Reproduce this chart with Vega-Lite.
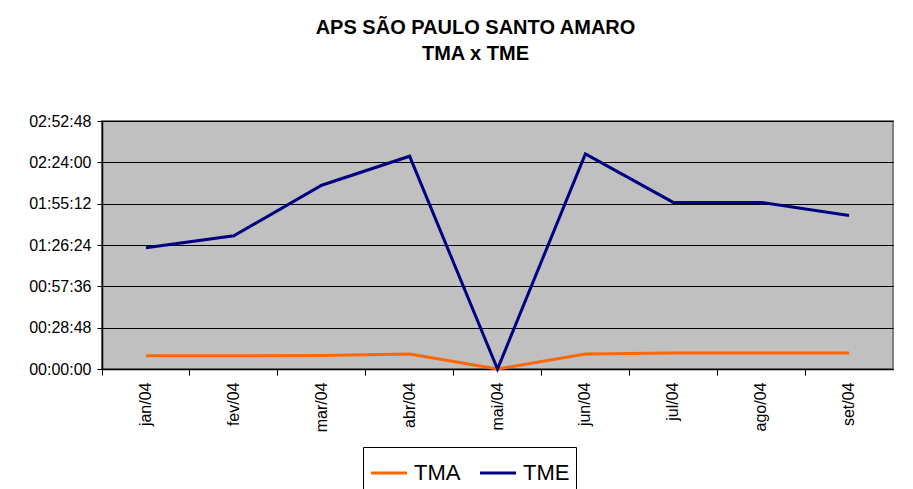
{
  "$schema": "https://vega.github.io/schema/vega-lite/v6.json",
  "autosize": "none",
  "width": 791,
  "height": 248,
  "padding": {"left": 102, "top": 121, "right": 20, "bottom": 120},
  "background": "white",
  "config": {
    "font": "Liberation Sans",
    "view": {"fill": "#C0C0C0", "stroke": "#808080", "strokeWidth": 2}
  },
  "title": {
    "text": ["APS SÃO PAULO SANTO AMARO", "TMA x TME"],
    "fontSize": 20,
    "fontWeight": "bold",
    "color": "black",
    "lineHeight": 26,
    "anchor": "middle",
    "dx": -22,
    "offset": 49
  },
  "data": {
    "values": [
      {"mes": "jan/04", "serie": "TMA", "valor": 555000},
      {"mes": "fev/04", "serie": "TMA", "valor": 555000},
      {"mes": "mar/04", "serie": "TMA", "valor": 560000},
      {"mes": "abr/04", "serie": "TMA", "valor": 626000},
      {"mes": "mai/04", "serie": "TMA", "valor": 0},
      {"mes": "jun/04", "serie": "TMA", "valor": 626000},
      {"mes": "jul/04", "serie": "TMA", "valor": 668000},
      {"mes": "ago/04", "serie": "TMA", "valor": 668000},
      {"mes": "set/04", "serie": "TMA", "valor": 668000},
      {"mes": "jan/04", "serie": "TME", "valor": 5065000},
      {"mes": "fev/04", "serie": "TME", "valor": 5567000},
      {"mes": "mar/04", "serie": "TME", "valor": 7684000},
      {"mes": "abr/04", "serie": "TME", "valor": 8895000},
      {"mes": "mai/04", "serie": "TME", "valor": 0},
      {"mes": "jun/04", "serie": "TME", "valor": 8991000},
      {"mes": "jul/04", "serie": "TME", "valor": 6965000},
      {"mes": "ago/04", "serie": "TME", "valor": 6965000},
      {"mes": "set/04", "serie": "TME", "valor": 6419000}
    ]
  },
  "mark": {"type": "line", "strokeWidth": 3},
  "encoding": {
    "x": {
      "field": "mes",
      "type": "ordinal",
      "sort": null,
      "scale": {"type": "band", "paddingInner": 0, "paddingOuter": 0},
      "axis": {
        "title": null,
        "labelAngle": -90,
        "labelFontSize": 16,
        "labelColor": "black",
        "labelPadding": 7,
        "bandPosition": 0,
        "tickSize": 6,
        "tickColor": "black",
        "domainColor": "black",
        "domainWidth": 1.5,
        "grid": false
      }
    },
    "y": {
      "field": "valor",
      "type": "quantitative",
      "scale": {"domain": [0, 10368000], "nice": false, "zero": true},
      "axis": {
        "title": null,
        "values": [0, 1728000, 3456000, 5184000, 6912000, 8640000, 10368000],
        "labelExpr": "utcFormat(datum.value, '%H:%M:%S')",
        "labelFontSize": 16,
        "labelColor": "black",
        "labelPadding": 6,
        "tickSize": 5,
        "tickColor": "black",
        "domainColor": "black",
        "domainWidth": 1.5,
        "grid": true,
        "gridColor": "black",
        "gridWidth": 1,
        "gridOpacity": 1
      }
    },
    "color": {
      "field": "serie",
      "type": "nominal",
      "scale": {"domain": ["TMA", "TME"], "range": ["#FF6600", "#000080"]},
      "legend": {
        "title": null,
        "orient": "none",
        "direction": "horizontal",
        "legendX": 261,
        "legendY": 326,
        "symbolType": "stroke",
        "symbolSize": 1300,
        "symbolStrokeWidth": 3,
        "labelFontSize": 22,
        "labelColor": "black",
        "labelOffset": 5,
        "columnPadding": 12,
        "padding": 6,
        "strokeColor": "black",
        "fillColor": "white"
      }
    }
  }
}
